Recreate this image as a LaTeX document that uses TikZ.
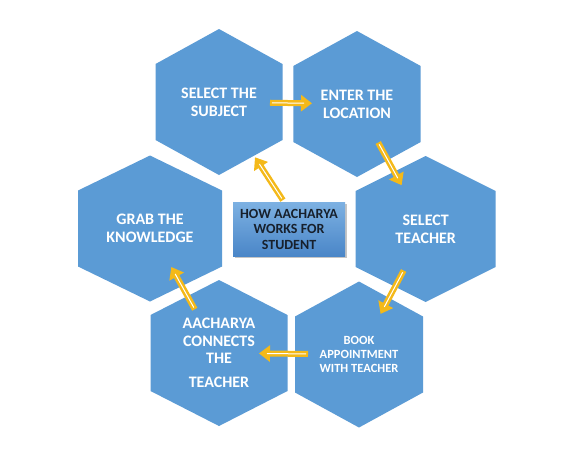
\documentclass[tikz,border=0pt]{standalone}
\usepackage{fontspec}
\setmainfont{Carlito}
\usetikzlibrary{arrows.meta,shadows}
\definecolor{cellblue}{HTML}{5B9BD5}
\definecolor{arrowgold}{HTML}{F4B919}
\definecolor{boxtop}{HTML}{7DB1E2}
\definecolor{boxbottom}{HTML}{4A86C8}
\definecolor{boxtext}{HTML}{17202C}

\begin{document}
\begin{tikzpicture}[x=1pt,y=-1pt,
  cell/.style={fill=cellblue},
  celltext/.style={text=white,font=\bfseries\fontsize{16}{18}\selectfont,align=center},
  howbox/.style={rectangle,top color=boxtop,bottom color=boxbottom,minimum width=112pt,minimum height=54pt,inner sep=0pt,
    drop shadow={opacity=0.45,shadow xshift=2pt,shadow yshift=-2pt},
    text=boxtext,font=\bfseries\fontsize{14}{15.5}\selectfont,align=center},
  flow/.style={draw=arrowgold,line width=6pt,-{Triangle[length=11pt,width=16pt]}},
  flowline/.style={draw=white,line width=1pt}]
\useasboundingbox (0,0) rectangle (564,456);
\fill[white] (0,0) rectangle (564,456);
% hexagons
\fill[cell] (219,29) -- (282.5,64) -- (282.5,140) -- (219,175) -- (155.5,140) -- (155.5,64) -- cycle;
\fill[cell] (357,31) -- (420.7,66) -- (420.7,142) -- (357,177) -- (293.3,142) -- (293.3,66) -- cycle;
\fill[cell] (425.7,156) -- (495.7,191) -- (495.7,267) -- (425.7,302) -- (355.7,267) -- (355.7,191) -- cycle;
\fill[cell] (150,155.5) -- (222,190.5) -- (222,266.5) -- (150,301.5) -- (78,266.5) -- (78,190.5) -- cycle;
\fill[cell] (219,280) -- (287.5,315) -- (287.5,391) -- (219,426) -- (150.5,391) -- (150.5,315) -- cycle;
\fill[cell] (359,281.5) -- (423,316.5) -- (423,392.5) -- (359,427.5) -- (295,392.5) -- (295,316.5) -- cycle;
% labels
\node[celltext] (subject) at (219,102) {SELECT THE\\SUBJECT};
\node[celltext] (location) at (357,104) {ENTER THE\\LOCATION};
\node[celltext] (teacher) at (425.7,229) {SELECT\\TEACHER};
\node[celltext] (grab) at (150,228.5) {GRAB THE\\KNOWLEDGE};
\node[celltext,font=\bfseries\fontsize{16}{17.3}\selectfont] (connects) at (219,353) {AACHARYA\\CONNECTS\\THE\\[7pt]TEACHER};
\node[celltext,font=\bfseries\fontsize{12.5}{14}\selectfont] (book) at (359,354.5) {BOOK\\APPOINTMENT\\WITH TEACHER};
\node[howbox] (how) at (289,229) {HOW AACHARYA\\WORKS FOR\\STUDENT};
% arrows
\draw[flow,shorten <=51pt,shorten >=45pt] (subject.center) -- (location.center);
\draw[flowline,shorten <=53pt,shorten >=53pt] (subject.center) -- (location.center);
\draw[flow,shorten <=44pt,shorten >=50pt] (location.center) -- (teacher.center);
\draw[flowline,shorten <=46pt,shorten >=58pt] (location.center) -- (teacher.center);
\draw[flow,shorten <=47pt,shorten >=46pt] (teacher.center) -- (book.center);
\draw[flowline,shorten <=49pt,shorten >=54pt] (teacher.center) -- (book.center);
\draw[flow,shorten <=51pt,shorten >=40pt] (book.center) -- (connects.center);
\draw[flowline,shorten <=53pt,shorten >=48pt] (book.center) -- (connects.center);
\draw[flow,shorten <=50pt,shorten >=44pt] (connects.center) -- (grab.center);
\draw[flowline,shorten <=52pt,shorten >=52pt] (connects.center) -- (grab.center);
\draw[flow,shorten <=2pt,shorten >=66pt] ([xshift=-5pt]how.north) -- (subject.center);
\draw[flowline,shorten <=4pt,shorten >=74pt] ([xshift=-5pt]how.north) -- (subject.center);
\end{tikzpicture}
\end{document}
